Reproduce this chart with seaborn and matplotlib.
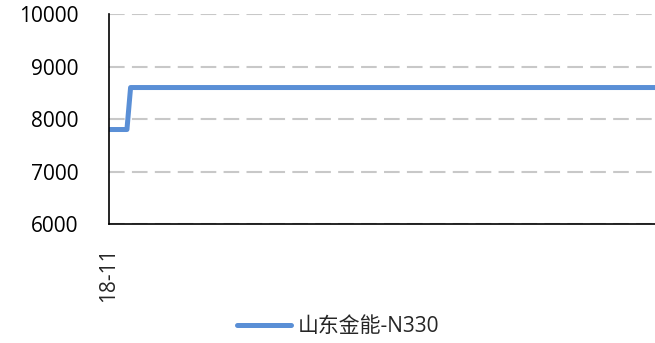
import matplotlib
matplotlib.use("Agg")
import matplotlib.pyplot as plt
import seaborn as sns
import pandas as pd

# 数据
days = [0, 10, 12, 300]
values = [7800, 7800, 8600, 8600]
xtick_pos = [0]
xtick_labels = ["18-11"]
series_name = "山东金能-N330"

sns.set_style("white")
plt.rcParams['font.family'] = ['Open Sans', 'Noto Sans CJK SC', 'DejaVu Sans']

df = pd.DataFrame({"day": days, "value": values, "name": series_name})

fig = plt.figure(figsize=(6.55, 3.43), dpi=100)
ax = fig.add_axes([0.166, 0.347, 0.834, 0.612])

sns.lineplot(data=df, x="day", y="value", hue="name", palette=["#5A8FD6"],
             linewidth=3.6, ax=ax)

ax.set_xlim(0, 300)
ax.set_ylim(6000, 10000)
ax.set_yticks([6000, 7000, 8000, 9000, 10000])
ax.set_xticks(xtick_pos)
ax.set_xticklabels(xtick_labels, rotation=90, fontsize=15)
ax.tick_params(axis="y", direction="in", length=6, width=1.2, labelsize=15, colors="black", pad=22)
ax.tick_params(axis="x", length=0, pad=17, labelsize=15)
ax.yaxis.grid(True, linestyle=(0, (7.5, 3.5)), color="#C8C8C8", linewidth=1.5)
ax.set_axisbelow(True)
for s in ["top", "right"]:
    ax.spines[s].set_visible(False)
for s in ["left", "bottom"]:
    ax.spines[s].set_color("black")
    ax.spines[s].set_linewidth(1.2)
ax.set_xlabel("")
ax.set_ylabel("")

leg = ax.legend(loc="center", bbox_to_anchor=(0.42, -0.49), frameon=False,
                fontsize=15, handlelength=2.6, handletextpad=0.35)
ax.get_legend().set_title(None)

fig.savefig("out.png", dpi=100)
